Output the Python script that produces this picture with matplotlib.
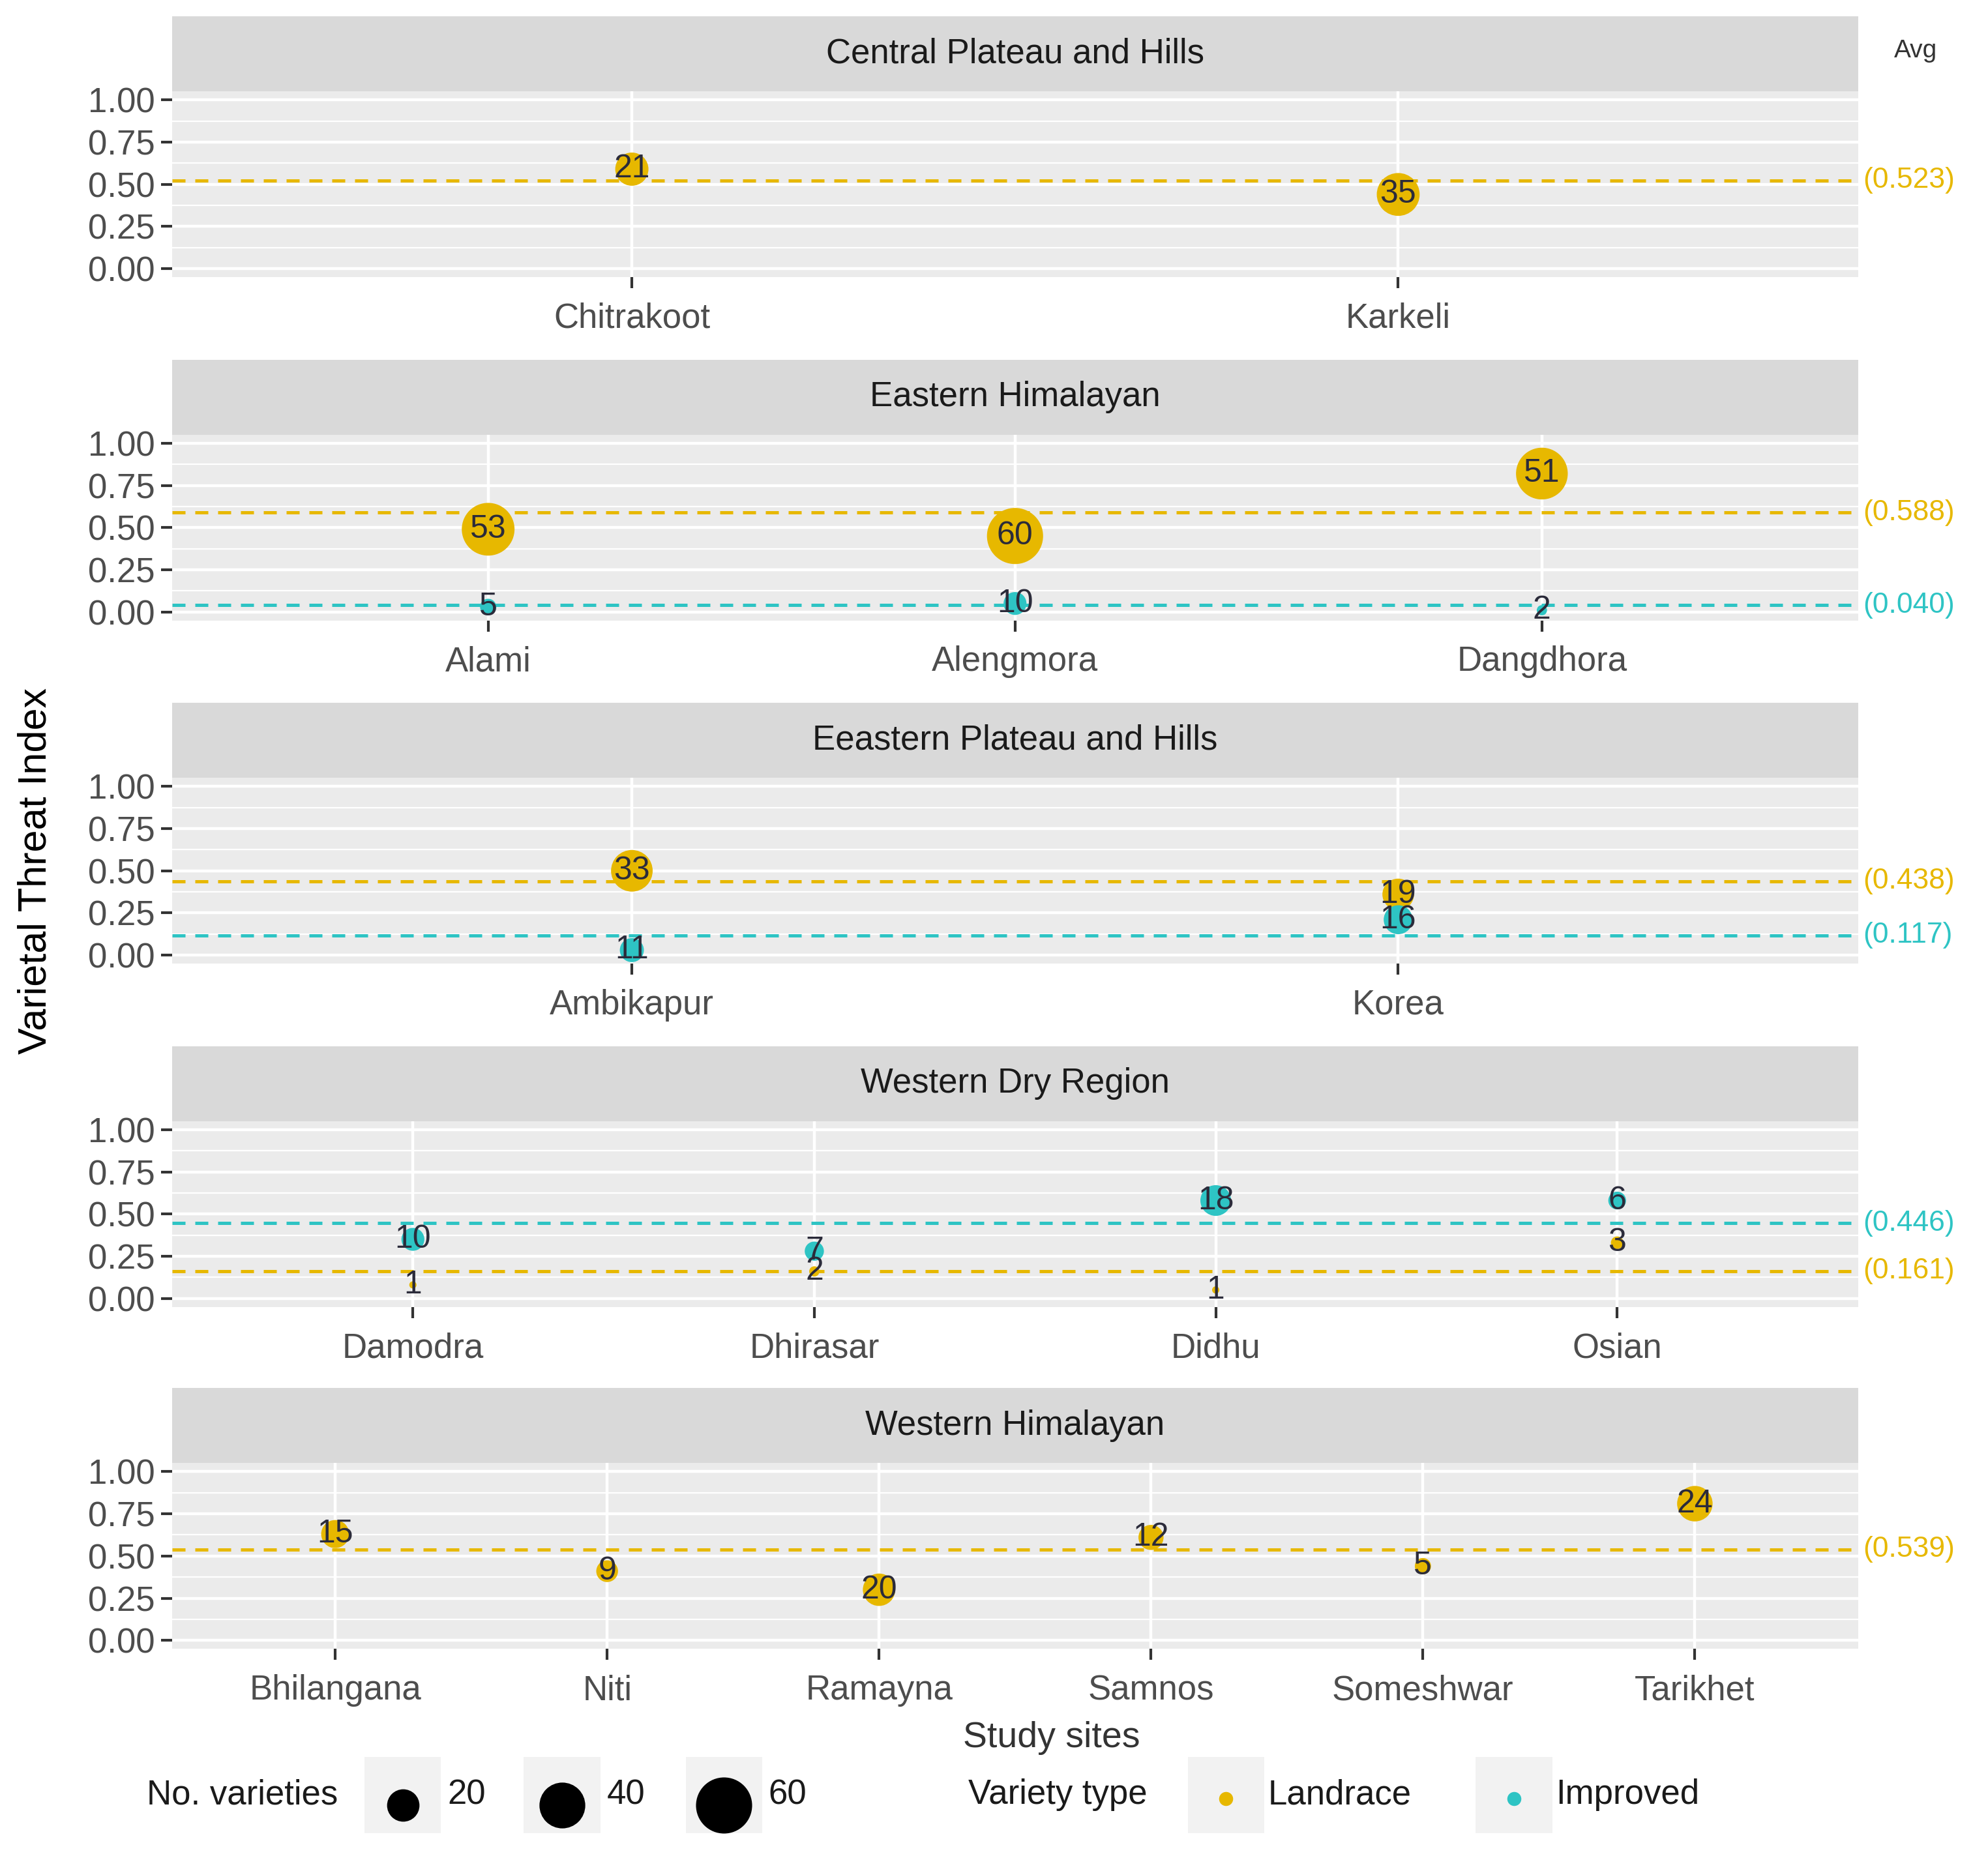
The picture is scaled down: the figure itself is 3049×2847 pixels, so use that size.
import matplotlib
matplotlib.use("Agg")
import matplotlib.pyplot as plt
from matplotlib.patches import Rectangle

LAND = "#E7B800"
IMPR = "#2EC4C4"
TXT = "#2B2B3A"

regions = ["Central Plateau and Hills", "Eastern Himalayan", "Eeastern Plateau and Hills",
           "Western Dry Region", "Western Himalayan"]
sites = [
    ["Chitrakoot", "Karkeli"],
    ["Alami", "Alengmora", "Dangdhora"],
    ["Ambikapur", "Korea"],
    ["Damodra", "Dhirasar", "Didhu", "Osian"],
    ["Bhilangana", "Niti", "Ramayna", "Samnos", "Someshwar", "Tarikhet"],
]
land_vti = [[0.59, 0.44], [0.49, 0.45, 0.82], [0.50, 0.36], [0.08, 0.16, 0.05, 0.33],
            [0.63, 0.41, 0.30, 0.61, 0.44, 0.81]]
land_n = [[21, 35], [53, 60, 51], [33, 19], [1, 2, 1, 3], [15, 9, 20, 12, 5, 24]]
impr_vti = [None, [0.03, 0.05, 0.01], [0.03, 0.21], [0.35, 0.28, 0.58, 0.58], None]
impr_n = [None, [5, 10, 2], [11, 16], [10, 7, 18, 6], None]
land_avg = [0.523, 0.588, 0.438, 0.161, 0.539]
impr_avg = [None, 0.040, 0.117, 0.446, None]

W, H = 1560.0, 1460.0
plt.rcParams["font.family"] = ["Liberation Sans", "DejaVu Sans"]
fig = plt.figure(figsize=(15.245, 14.235), dpi=200)


def box(x0, y0, x1, y1):
    return [x0 / W, 1 - y1 / H, (x1 - x0) / W, (y1 - y0) / H]


def fx(x):
    return x / W


def fy(y):
    return 1 - y / H


SZ = 16
strip_tops = [13, 283, 553, 823, 1092]
for i, reg in enumerate(regions):
    t = strip_tops[i]
    sa = fig.add_axes(box(135, t, 1458, t + 59))
    sa.set_facecolor("#D9D9D9")
    sa.set_xticks([]); sa.set_yticks([])
    for s in sa.spines.values():
        s.set_visible(False)
    sa.text(0.5, 0.5, reg, ha="center", va="center", fontsize=19, color="#1A1A1A",
            transform=sa.transAxes)

    ax = fig.add_axes(box(135, t + 59, 1458, t + 59 + 146))
    ax.set_facecolor("#EBEBEB")
    for s in ax.spines.values():
        s.set_visible(False)
    n = len(sites[i])
    xs = list(range(1, n + 1))
    ax.set_xlim(0.4, n + 0.6)
    ax.set_ylim(-0.05, 1.05)
    ax.set_yticks([0, 0.25, 0.5, 0.75, 1.0])
    ax.set_yticklabels(["0.00", "0.25", "0.50", "0.75", "1.00"])
    ax.set_yticks([0.125, 0.375, 0.625, 0.875], minor=True)
    ax.set_xticks(xs)
    ax.set_xticklabels(sites[i])
    ax.grid(True, which="major", color="white", lw=1.6)
    ax.grid(True, which="minor", axis="y", color="white", lw=0.8)
    ax.tick_params(axis="both", which="major", labelsize=19, labelcolor="#4D4D4D",
                   color="#333333", length=6, width=1.5)
    ax.tick_params(axis="x", pad=8)
    ax.tick_params(which="minor", length=0)
    ax.set_axisbelow(True)

    ax.scatter(xs, land_vti[i], s=[SZ * v for v in land_n[i]], color=LAND, zorder=3, lw=0)
    for x, y, v in zip(xs, land_vti[i], land_n[i]):
        ax.text(x, y, str(v), ha="center", va="center", fontsize=18, color=TXT, zorder=5)
    if impr_vti[i] is not None:
        ax.scatter(xs, impr_vti[i], s=[SZ * v for v in impr_n[i]], color=IMPR, zorder=3, lw=0)
        for x, y, v in zip(xs, impr_vti[i], impr_n[i]):
            ax.text(x, y, str(v), ha="center", va="center", fontsize=18, color=TXT, zorder=5)

    ax.axhline(land_avg[i], color=LAND, ls=(0, (4, 3)), lw=1.8, zorder=4)
    ax.annotate(f"({land_avg[i]:.3f})", (1.003, land_avg[i]), xycoords=("axes fraction", "data"),
                va="center", ha="left", fontsize=16, color=LAND, annotation_clip=False)
    if impr_avg[i] is not None:
        ax.axhline(impr_avg[i], color=IMPR, ls=(0, (4, 3)), lw=1.8, zorder=4)
        ax.annotate(f"({impr_avg[i]:.3f})", (1.003, impr_avg[i]), xycoords=("axes fraction", "data"),
                    va="center", ha="left", fontsize=16, color=IMPR, annotation_clip=False)

fig.text(fx(1503), fy(40), "Avg", ha="center", va="center", fontsize=14, color="#333333")
fig.text(fx(28), fy(685), "Varietal Threat Index", rotation=90, ha="center", va="center",
         fontsize=22, color="black")
fig.text(fx(825), fy(1367), "Study sites", ha="center", va="center", fontsize=20, color="#333333")

# legend
lg = fig.add_axes([0, 0, 1, 1], facecolor="none")
lg.set_xlim(0, W); lg.set_ylim(H, 0); lg.axis("off")
ly = 1412
lg.text(115, ly, "No. varieties", ha="left", va="center", fontsize=19, color="#1A1A1A")
for kx, n, lab in [(316, 20, "20"), (441, 40, "40"), (568, 60, "60")]:
    lg.add_patch(Rectangle((kx - 30, ly - 30), 60, 60, color="#F2F2F2", lw=0))
    lg.scatter([kx], [ly + 8], s=SZ * n, color="black", lw=0)
    lg.text(kx + 35, ly, lab, ha="left", va="center", fontsize=19, color="#1A1A1A")
lg.text(760, ly, "Variety type", ha="left", va="center", fontsize=19, color="#1A1A1A")
for kx, c, lab in [(962, LAND, "Landrace"), (1188, IMPR, "Improved")]:
    lg.add_patch(Rectangle((kx - 30, ly - 30), 60, 60, color="#F2F2F2", lw=0))
    lg.scatter([kx], [ly + 3], s=60, color=c, lw=0)
    lg.text(kx + 33, ly, lab, ha="left", va="center", fontsize=19, color="#1A1A1A")

fig.savefig("out.png", dpi=200, facecolor="white")
